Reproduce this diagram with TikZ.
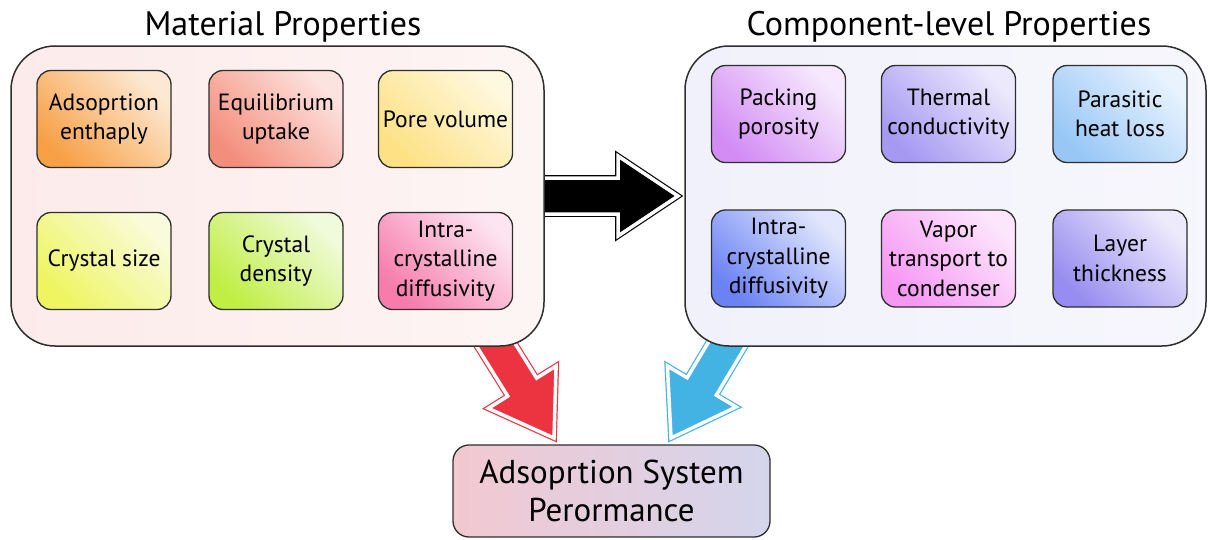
\documentclass[tikz,border=0pt]{standalone}
\usepackage{fontspec}
\setmainfont{PT Sans}
\usetikzlibrary{calc,backgrounds}

\definecolor{edge}{HTML}{2E2E2E}
\definecolor{redarr}{HTML}{EC3440}
\definecolor{bluearr}{HTML}{43B3E3}
\definecolor{pinkbg}{HTML}{FCEBEA}
\definecolor{lavbg}{HTML}{F1F1FB}
% light / dark ends of the property boxes
\definecolor{enthL}{HTML}{FDE9D3}\definecolor{enthD}{HTML}{F7A046}
\definecolor{uptL}{HTML}{FDE3DF}\definecolor{uptD}{HTML}{F48E7C}
\definecolor{poreL}{HTML}{FEF8DE}\definecolor{poreD}{HTML}{FDE184}
\definecolor{sizeL}{HTML}{FAFBDC}\definecolor{sizeD}{HTML}{EEF560}
\definecolor{densL}{HTML}{F0FBDC}\definecolor{densD}{HTML}{C0EE44}
\definecolor{mdiffL}{HTML}{FDE4F0}\definecolor{mdiffD}{HTML}{F77BAB}
\definecolor{packL}{HTML}{F6E9FD}\definecolor{packD}{HTML}{D38CF4}
\definecolor{thermL}{HTML}{ECE9FC}\definecolor{thermD}{HTML}{A699F2}
\definecolor{lossL}{HTML}{E8F3FE}\definecolor{lossD}{HTML}{98C7F6}
\definecolor{cdiffL}{HTML}{E2E7FD}\definecolor{cdiffD}{HTML}{6A82F4}
\definecolor{vapL}{HTML}{FCE6FC}\definecolor{vapD}{HTML}{F797F4}
\definecolor{layL}{HTML}{EDEAFC}\definecolor{layD}{HTML}{978CEF}
\definecolor{perfL}{HTML}{F2C8D1}\definecolor{perfR}{HTML}{D4D5EC}

\tikzset{
  bigbox/.style={draw=edge, line width=1.5pt, rounded corners=44pt, minimum height=300pt},
  prop/.style={draw=edge, line width=1.3pt, rounded corners=14pt, minimum width=134pt, minimum height=97pt,
    align=center, font=\fontsize{23.5}{29.5}\selectfont, top color=#1L, bottom color=#1D, shading angle=-45},
  title/.style={font=\fontsize{34}{40}\selectfont},
  fat/.style={fill=#1, draw=#1, double=white, double distance=3.5pt, line width=1.2pt}
}

% fat arrow: style, from, to, shaft half width, head length, head half width
\newcommand{\fatarrow}[6]{%
  \path[#1] let \p1=($(#3)-(#2)$), \n1={veclen(\x1,\y1)}, \n2={atan2(\y1,\x1)} in
    ([shift={(#2)},rotate=\n2]0pt,-#4pt) -- ([shift={(#2)},rotate=\n2]{\n1*1pt-#5pt},-#4pt)
    -- ([shift={(#2)},rotate=\n2]{\n1*1pt-#5pt},-#6pt) -- ([shift={(#2)},rotate=\n2]{\n1*1pt},0pt)
    -- ([shift={(#2)},rotate=\n2]{\n1*1pt-#5pt},#6pt) -- ([shift={(#2)},rotate=\n2]{\n1*1pt-#5pt},#4pt)
    -- ([shift={(#2)},rotate=\n2]0pt,#4pt) -- cycle;
}

\begin{document}
\begin{tikzpicture}[x=1pt,y=-1pt]
	\useasboundingbox (0,0) rectangle (1210,539);

	\node[title] (mattitle) at (283,27) {Material Properties};
	\node[title] (comptitle) at (949,27) {Component-level Properties};

	\node[bigbox, minimum width=533pt, left color=pinkbg, right color=pinkbg!50] (matbox) at (277.5,196) {};
	\node[bigbox, minimum width=521pt, left color=lavbg, right color=lavbg!60] (compbox) at (945.5,196) {};

	\node[prop=enth] (enth) at (104,119) {Adsoprtion\\enthaply};
	\node[prop=upt] (uptake) at (276,119) {Equilibrium\\uptake};
	\node[prop=pore] (pore) at (445.5,119) {Pore volume};
	\node[prop=size] (csize) at (104,261) {Crystal size};
	\node[prop=dens] (cdens) at (276,261) {Crystal\\density};
	\node[prop=mdiff] (mdiff) at (445.5,261) {Intra-\\crystalline\\diffusivity};

	\node[prop=pack] (pack) at (778.5,114) {Packing\\porosity};
	\node[prop=therm] (therm) at (948.5,114) {Thermal\\conductivity};
	\node[prop=loss] (loss) at (1120,114) {Parasitic\\heat loss};
	\node[prop=cdiff] (cdiff) at (778.5,258.5) {Intra-\\crystalline\\diffusivity};
	\node[prop=vap] (vapor) at (948.5,258.5) {Vapor\\transport to\\condenser};
	\node[prop=lay] (layer) at (1120,258.5) {Layer\\thickness};

	\node[draw=edge, line width=1.3pt, rounded corners=16pt, minimum width=317pt, minimum height=92pt, align=center,
		left color=perfL, right color=perfR, font=\fontsize{33}{38}\selectfont] (perf) at (611.5,491) {Adsoprtion System\\Perormance};

	\coordinate (blk0) at (525,196);
	\coordinate (blk1) at (678,196);
	\coordinate (red0) at (474,310);
	\coordinate (red1) at (554,438);
	\coordinate (blu0) at (748,309);
	\coordinate (blu1) at (671,438);

	\begin{scope}[on background layer]
		\fatarrow{fat=black}{blk0}{blk1}{18}{60}{40}
		\fatarrow{fat=redarr}{red0}{red1}{17}{60}{40}
		\fatarrow{fat=bluearr}{blu0}{blu1}{17}{60}{40}
	\end{scope}
\end{tikzpicture}
\end{document}
